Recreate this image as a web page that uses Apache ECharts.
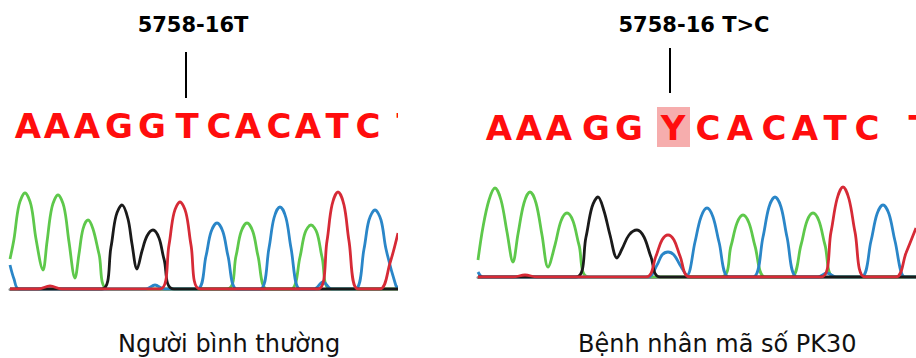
<!DOCTYPE html>
<html>
<head>
<meta charset="utf-8">
<script src="https://cdn.jsdelivr.net/npm/echarts@6/dist/echarts.min.js"></script>
<style>
  html, body { margin: 0; padding: 0; background: #fff; }
  #left { position: absolute; left: 0; top: 0; width: 398px; height: 358px; overflow: hidden; }
  #right { position: absolute; left: 458px; top: 0; width: 458px; height: 358px; overflow: hidden; }
</style>
</head>
<body>
<div id="left"></div>
<div id="right"></div>
<script>
// traces: [scan position, signal]
const leftA = [[10, 30], [14, 50], [19, 84], [25, 96], [31, 84], [36, 50], [43, 19], [47, 47], [52, 82], [58, 94], [64, 82], [69, 47], [75, 11],
  [79, 35], [83, 60], [88, 69], [93, 60], [99, 35], [108, 0], [227, 0], [236, 33], [241, 57], [247, 66], [253, 57], [258, 33], [267, 0],
  [291, 0], [300, 32], [305, 56], [311, 64], [317, 56], [322, 32], [331, 0], [398, 0]]
const leftC = [[10, 24], [14, 10], [19, 0], [146, 0], [155, 4], [164, 0], [197, 0], [206, 33], [211, 57], [217, 66], [223, 57], [228, 33], [237, 0],
  [260, 0], [269, 41], [274, 71], [280, 82], [286, 71], [291, 41], [300, 0], [314, 0], [323, 7], [332, 0],
  [355, 0], [364, 40], [369, 69], [375, 79], [381, 69], [386, 40], [396, 3], [398, 2]]
const leftG = [[10, 0], [102, 0], [111, 42], [116, 73], [122, 84], [128, 70], [132, 45], [137, 20], [142, 38], [147, 53], [153, 59], [159, 51], [164, 30], [174, 0], [398, 0]]
const leftT = [[10, 0], [38, 0], [50, 3], [62, 0], [160, 0], [169, 44], [174, 76], [180, 87], [186, 76], [191, 44], [200, 0],
  [318, 0], [327, 48], [332, 84], [338, 97], [344, 84], [349, 48], [358, 0], [380, 0], [390, 26], [398, 56]]

const rightA = [[478, 17], [483, 50], [489, 77], [495, 89], [501, 77], [507, 45], [513, 15], [518, 43], [524, 74], [530, 85], [536, 74], [542, 42], [548, 10],
  [555, 32], [561, 56], [567, 64], [573, 56], [579, 32], [589, 0], [721, 0], [731, 31], [737, 54], [743, 62], [749, 54], [755, 31], [765, 0],
  [791, 0], [801, 32], [807, 56], [813, 64], [819, 56], [825, 32], [835, 0], [916, 0]]
const rightC = [[478, 5], [483, 0], [648, 0], [657, 12], [662, 22], [668, 25], [674, 22], [680, 12], [687, 2], [695, 35], [701, 60], [707, 69], [713, 60], [719, 35], [729, 0],
  [753, 0], [763, 40], [769, 70], [775, 80], [781, 70], [787, 40], [797, 0], [818, 0], [827, 4], [836, 0],
  [861, 0], [871, 36], [877, 63], [883, 72], [889, 63], [895, 36], [905, 0], [916, 0]]
const rightG = [[478, 0], [576, 0], [586, 40], [592, 70], [598, 80], [604, 66], [610, 42], [617, 19], [622, 28], [629, 42], [637, 47], [644, 40], [651, 20], [660, 0], [916, 0]]
const rightT = [[478, 0], [513, 0], [525, 2], [537, 0], [646, 0], [656, 21], [662, 37], [668, 42], [674, 37], [680, 21], [690, 0],
  [821, 0], [831, 45], [837, 78], [843, 90], [849, 78], [855, 45], [865, 0], [896, 0], [906, 24], [916, 49]]

// base calls and where they sit on the scan
const leftSeq = ['A', 'A', 'A', 'G', 'G', 'T', 'C', 'A', 'C', 'A', 'T', 'C', 'T']
const leftSeqX = [28, 57, 87, 119, 152, 187, 219, 248, 279, 308, 337, 368, 408]
const rightSeq = ['A', 'A', 'A', 'G', 'G', 'Y', 'C', 'A', 'C', 'A', 'T', 'C', 'T']
const rightSeqX = [499, 529, 559, 596, 629, 673, 708, 740, 774, 805, 835, 867, 920]

const colors = { A: '#5ec84b', C: '#2a86c8', G: '#1a1a1a', T: '#d62a36' }

function buildPanel(el, p) {
  const chart = echarts.init(el, null, { renderer: 'svg' })
  const trace = (data, color) => ({
    type: 'line',
    data,
    smooth: 0.35,
    showSymbol: false,
    silent: true,
    lineStyle: { color, width: 2.8 },
  })
  // text-only scatter points (no visible symbol, full opacity)
  const textPoint = (data, label) => ({
    type: 'scatter',
    clip: false,
    symbolSize: 1,
    itemStyle: { color: 'transparent', opacity: 1 },
    data,
    label: Object.assign({ show: true, position: 'inside', formatter: '{b}', textBorderWidth: 0, opacity: 1 }, label),
    z: 5,
  })
  const letters = textPoint(
    p.seq.map((b, i) => ({ name: b, value: [p.seqX[i], p.seqY] })),
    { fontFamily: 'DejaVu Sans', fontWeight: 'bold', fontSize: 34, color: '#ff0d0d' }
  )
  if (p.box) {
    letters.markArea = {
      silent: true,
      itemStyle: { color: '#f6adad', opacity: 1 },
      data: [[{ xAxis: p.box[0], yAxis: p.box[1] }, { xAxis: p.box[2], yAxis: p.box[3] }]],
    }
  }
  chart.setOption({
    animation: false,
    title: {
      text: p.caption,
      left: p.captionLeft,
      top: 332,
      padding: 0,
      textStyle: { fontFamily: 'DejaVu Sans', fontWeight: 'normal', fontSize: 24, color: '#111' },
    },
    grid: { left: p.gridLeft, right: 0, top: 0, height: p.base },
    xAxis: {
      type: 'value',
      min: p.xMin,
      max: p.xMax,
      axisLine: { show: true, lineStyle: { color: '#8c8c8c', width: 3 } },
      axisTick: { show: false },
      axisLabel: { show: false },
      splitLine: { show: false },
    },
    yAxis: { type: 'value', min: 0, max: p.base, show: false },
    series: [
      trace(p.A, colors.A),
      trace(p.C, colors.C),
      trace(p.G, colors.G),
      trace(p.T, colors.T),
      letters,
      {
        type: 'line',
        data: p.tick,
        showSymbol: false,
        silent: true,
        lineStyle: { color: '#000', width: 2 },
      },
      textPoint(
        [{ name: p.title, value: p.titlePos }],
        { fontFamily: 'DejaVu Sans', fontWeight: 'bold', fontSize: 21, color: '#000' }
      ),
    ],
  })
  return chart
}

buildPanel(document.getElementById('left'), {
  xMin: 10, xMax: 398, gridLeft: 10, base: 289,
  A: leftA, C: leftC, G: leftG, T: leftT,
  seq: leftSeq, seqX: leftSeqX, seqY: 163,
  tick: [[186, 237], [186, 191]],
  title: '5758-16T', titlePos: [193, 264],
  caption: 'Người bình thường', captionLeft: 118,
})

buildPanel(document.getElementById('right'), {
  xMin: 478, xMax: 916, gridLeft: 20, base: 277,
  A: rightA, C: rightC, G: rightG, T: rightT,
  seq: rightSeq, seqX: rightSeqX, seqY: 149.5,
  box: [657, 170, 690, 130],
  tick: [[670, 229], [670, 184]],
  title: '5758-16 T>C', titlePos: [694, 252],
  caption: 'Bệnh nhân mã số PK30', captionLeft: 120,
})
</script>
</body>
</html>
